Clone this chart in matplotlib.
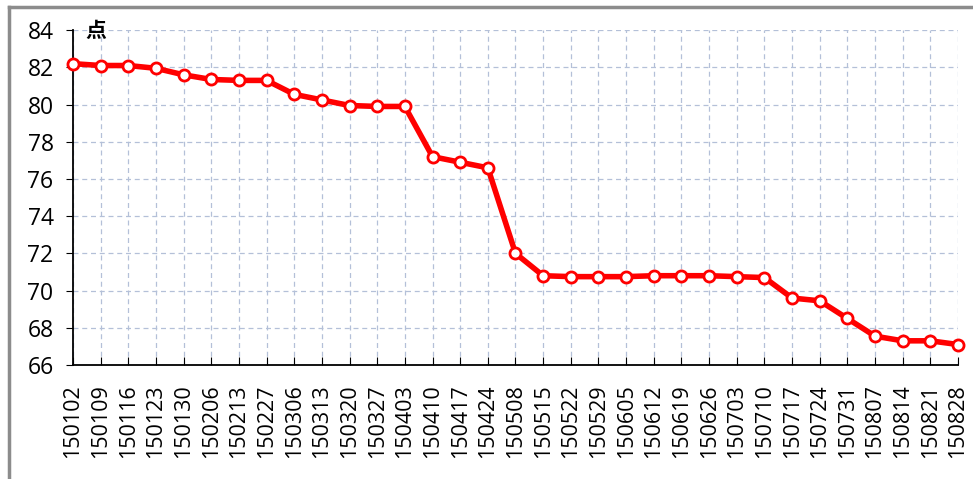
import matplotlib
matplotlib.use("Agg")
import matplotlib.pyplot as plt
from matplotlib.lines import Line2D
import numpy as np

plt.rcParams['font.family'] = ['Open Sans', 'Noto Sans CJK SC', 'DejaVu Sans']

# data
dates = ['150102', '150109', '150116', '150123', '150130', '150206', '150213',
         '150227', '150306', '150313', '150320', '150327', '150403', '150410',
         '150417', '150424', '150508', '150515', '150522', '150529', '150605',
         '150612', '150619', '150626', '150703', '150710', '150717', '150724',
         '150731', '150807', '150814', '150821', '150828']
values = [82.2, 82.1, 82.1, 81.95, 81.6, 81.35, 81.3, 81.3, 80.55, 80.25,
          79.95, 79.9, 79.9, 77.2, 76.9, 76.6, 72.0, 70.8, 70.75, 70.75,
          70.75, 70.8, 70.8, 70.8, 70.75, 70.7, 69.6, 69.45, 68.5, 67.55,
          67.3, 67.3, 67.1]
yticks = [66, 68, 70, 72, 74, 76, 78, 80, 82, 84]

fig = plt.figure(figsize=(9.73, 4.79), dpi=100)
ax = fig.add_axes([0.075, 0.238, 0.9096, 0.699])

x = np.arange(len(dates))
ax.plot(x, values, color='#ff0000', lw=4, marker='o', ms=8,
        mfc='white', mec='#ff0000', mew=2, zorder=3, clip_on=False)

ax.set_xlim(0, len(dates) - 1)
ax.set_ylim(66, 84)
ax.set_yticks(yticks)
ax.set_xticks(x)
ax.set_xticklabels(dates, rotation=90, fontsize=15.5)
ax.tick_params(axis='y', direction='out', length=5, pad=9, labelsize=16.5)
ax.tick_params(axis='x', direction='in', length=6, pad=14)

ax.grid(True, color='#b4c0d8', ls='--', lw=0.9, dashes=(4, 3))
ax.set_axisbelow(True)
for s in ['top', 'right']:
    ax.spines[s].set_visible(False)
for s in ['left', 'bottom']:
    ax.spines[s].set_color('black')
    ax.spines[s].set_linewidth(1.3)

ax.text(0.45, 84, '点', fontsize=15, fontweight='bold', ha='left', va='center',
        family=['Noto Sans CJK SC', 'DejaVu Sans'])

# outer frame
fig.add_artist(Line2D([9 / 973, 9 / 973], [0, 1 - 7 / 479], color='#8c8c8c', lw=2.5))
fig.add_artist(Line2D([9 / 973, 1], [1 - 7 / 479, 1 - 7 / 479], color='#8c8c8c', lw=2.5))

fig.savefig('out.png', dpi=100)
